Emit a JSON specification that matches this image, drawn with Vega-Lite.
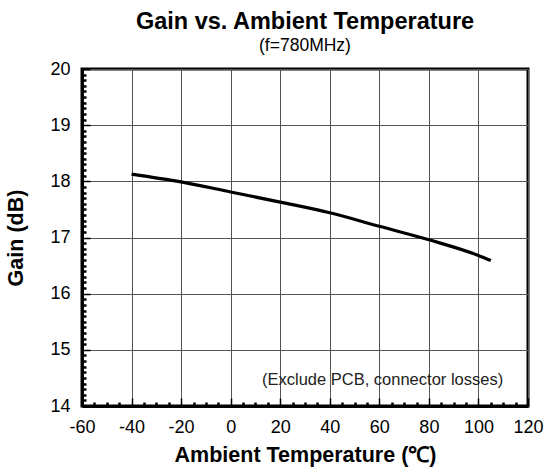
{
  "$schema": "https://vega.github.io/schema/vega-lite/v6.json",
  "autosize": "none",
  "width": 446,
  "height": 337,
  "padding": {"left": 82, "top": 69, "right": 19, "bottom": 67},
  "background": "white",
  "title": {
    "text": "Gain vs. Ambient  Temperature",
    "subtitle": "(f=780MHz)",
    "anchor": "middle",
    "frame": "group",
    "font": "Liberation Sans",
    "fontSize": 23.5,
    "fontWeight": "bold",
    "color": "black",
    "subtitleFont": "Liberation Sans",
    "subtitleFontSize": 17.5,
    "subtitleColor": "black",
    "subtitlePadding": 3,
    "offset": 6
  },
  "config": {
    "view": {"stroke": "black", "strokeWidth": 3},
    "axis": {
      "labelFont": "Liberation Sans",
      "labelFontSize": 18,
      "labelColor": "black",
      "labelFlush": false,
      "titleFont": "Liberation Sans",
      "titleFontSize": 21.5,
      "titleFontWeight": "bold",
      "titleColor": "black"
    }
  },
  "resolve": {"axis": {"x": "independent", "y": "independent"}},
  "layer": [
    {
      "data": {
        "values": [
          {"temp": -40, "gain": 18.13},
          {"temp": -20, "gain": 17.99},
          {"temp": 0, "gain": 17.81},
          {"temp": 20, "gain": 17.63},
          {"temp": 40, "gain": 17.44},
          {"temp": 60, "gain": 17.2},
          {"temp": 80, "gain": 16.96},
          {"temp": 100, "gain": 16.68},
          {"temp": 105, "gain": 16.59}
        ]
      },
      "mark": {"type": "line", "color": "black", "strokeWidth": 3.2, "interpolate": "monotone"},
      "encoding": {
        "x": {
          "field": "temp",
          "type": "quantitative",
          "scale": {"domain": [-60, 120], "nice": false, "zero": false},
          "axis": {
            "title": "Ambient Temperature (℃)",
            "values": [-60, -40, -20, 0, 20, 40, 60, 80, 100, 120],
            "labelExpr": "datum.value < 0 ? '-' + abs(datum.value) : '' + datum.value",
            "grid": true,
            "gridColor": "#555555",
            "gridWidth": 1,
            "gridOpacity": 1,
            "domainColor": "black",
            "domainWidth": 3,
            "tickColor": "black",
            "tickSize": -8,
            "tickWidth": 1.5,
            "labelPadding": 20,
            "titlePadding": 8
          }
        },
        "y": {
          "field": "gain",
          "type": "quantitative",
          "scale": {"domain": [14, 20], "nice": false, "zero": false},
          "axis": {
            "title": "Gain (dB)",
            "values": [14, 15, 16, 17, 18, 19, 20],
            "grid": true,
            "gridColor": "#555555",
            "gridWidth": 1,
            "gridOpacity": 1,
            "domainColor": "black",
            "domainWidth": 3,
            "tickColor": "black",
            "tickSize": -8,
            "tickWidth": 1.5,
            "labelPadding": 20,
            "titlePadding": 22
          }
        }
      }
    },
    {
      "data": {"values": [{"note": "(Exclude PCB, connector losses)"}]},
      "mark": {
        "type": "text",
        "font": "Liberation Sans",
        "fontSize": 16.5,
        "color": "#222222",
        "align": "center",
        "baseline": "middle"
      },
      "encoding": {
        "text": {"field": "note"},
        "x": {
          "datum": 61.3,
          "type": "quantitative",
          "axis": {
            "orient": "bottom",
            "values": [-55, -50, -45, -35, -30, -25, -15, -10, -5, 5, 10, 15, 25, 30, 35, 45, 50, 55, 65, 70, 75, 85, 90, 95, 105, 110, 115],
            "labels": false,
            "title": null,
            "grid": false,
            "domain": false,
            "tickColor": "black",
            "tickSize": -4,
            "tickWidth": 2.5
          }
        },
        "y": {
          "datum": 14.47,
          "type": "quantitative",
          "axis": {
            "orient": "left",
            "values": [14.1, 14.2, 14.3, 14.4, 14.5, 14.6, 14.7, 14.8, 14.9, 15.1, 15.2, 15.3, 15.4, 15.5, 15.6, 15.7, 15.8, 15.9, 16.1, 16.2, 16.3, 16.4, 16.5, 16.6, 16.7, 16.8, 16.9, 17.1, 17.2, 17.3, 17.4, 17.5, 17.6, 17.7, 17.8, 17.9, 18.1, 18.2, 18.3, 18.4, 18.5, 18.6, 18.7, 18.8, 18.9, 19.1, 19.2, 19.3, 19.4, 19.5, 19.6, 19.7, 19.8, 19.9],
            "labels": false,
            "title": null,
            "grid": false,
            "domain": false,
            "tickColor": "black",
            "tickSize": -4,
            "tickWidth": 2.5
          }
        }
      }
    }
  ]
}
